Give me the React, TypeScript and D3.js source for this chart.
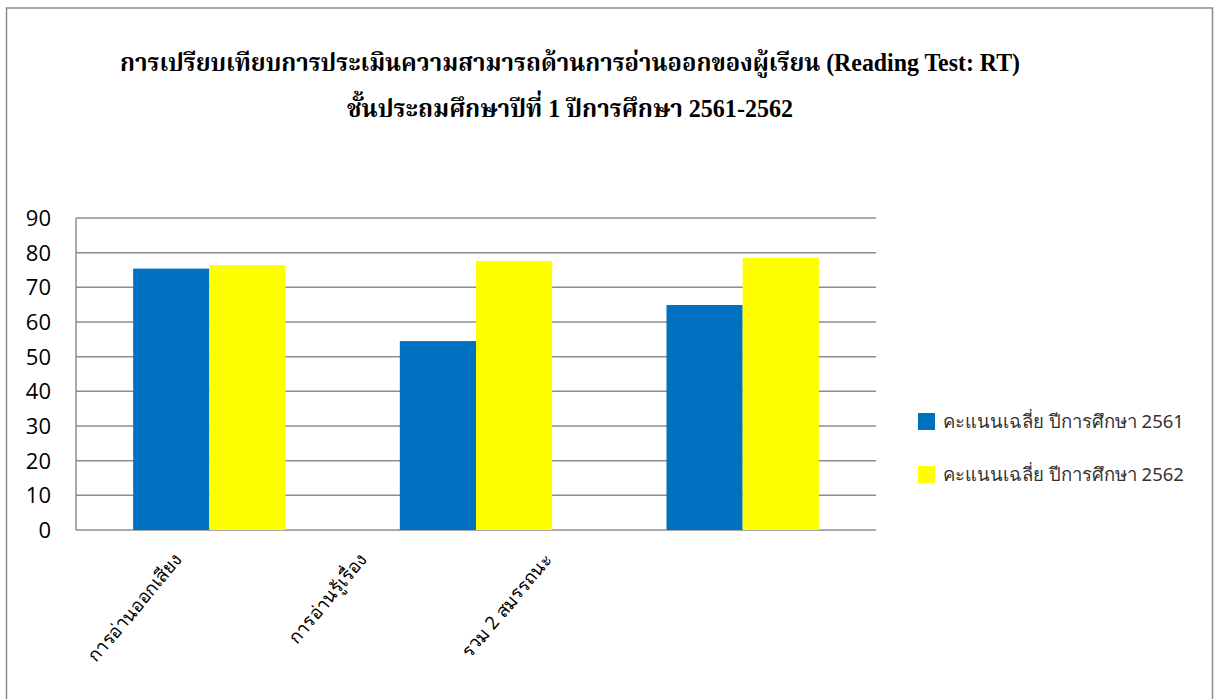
import React, { useEffect, useRef } from 'react';
import * as d3 from 'd3';

const categories = ['การอ่านออกเสียง', 'การอ่านรู้เรื่อง', 'รวม 2 สมรรถนะ'];
const seriesNames = ['คะแนนเฉลี่ย ปีการศึกษา 2561', 'คะแนนเฉลี่ย ปีการศึกษา 2562'];
const scores2561 = [75.4, 54.5, 64.9];
const scores2562 = [76.4, 77.6, 78.5];
const yTicks = [0, 10, 20, 30, 40, 50, 60, 70, 80, 90];
const titleLines = [
  'การเปรียบเทียบการประเมินความสามารถด้านการอ่านออกของผู้เรียน (Reading Test: RT)',
  'ชั้นประถมศึกษาปีที่ 1 ปีการศึกษา 2561-2562',
];
const titleWidths = [900, 446];
const colors = ['#0070C0', '#FFFF00'];

const App: React.FC = () => {
  const ref = useRef<SVGSVGElement | null>(null);

  useEffect(() => {
    if (!ref.current) return;
    const svg = d3.select(ref.current);
    svg.selectAll('*').remove();

    const W = 1214;
    const H = 699;
    const plot = { left: 76, right: 876, top: 218, bottom: 530 };

    svg.append('rect')
      .attr('x', 6.5).attr('y', 8)
      .attr('width', W - 8).attr('height', H)
      .attr('fill', '#fff')
      .attr('stroke', '#8c8c8c')
      .attr('stroke-width', 1.5);

    // title
    svg.selectAll('text.title')
      .data(titleLines)
      .enter()
      .append('text')
      .attr('class', 'title')
      .attr('x', 570)
      .attr('y', (_, i) => 71 + i * 46)
      .attr('text-anchor', 'middle')
      .attr('textLength', (_, i) => titleWidths[i])
      .attr('lengthAdjust', 'spacingAndGlyphs')
      .style('font-family', '"Liberation Serif", "Noto Serif Thai", serif')
      .style('font-weight', 'bold')
      .style('font-size', '25px')
      .text(d => d);

    const x = d3.scaleBand<string>()
      .domain(categories)
      .range([plot.left, plot.right])
      .padding(0);

    const inner = x.bandwidth() / 3.5;

    const y = d3.scaleLinear()
      .domain([0, 90])
      .range([plot.bottom, plot.top]);

    // gridlines
    svg.append('g')
      .selectAll('line')
      .data(yTicks)
      .enter()
      .append('line')
      .attr('x1', plot.left)
      .attr('x2', plot.right)
      .attr('y1', d => y(d))
      .attr('y2', d => y(d))
      .attr('stroke', '#8c8c8c')
      .attr('stroke-width', 1.5);

    svg.append('line')
      .attr('x1', plot.left).attr('x2', plot.left)
      .attr('y1', plot.top).attr('y2', plot.bottom)
      .attr('stroke', '#8c8c8c')
      .attr('stroke-width', 1.5);

    // y labels
    svg.append('g')
      .selectAll('text')
      .data(yTicks)
      .enter()
      .append('text')
      .attr('x', 51)
      .attr('y', d => y(d) + 8)
      .attr('text-anchor', 'end')
      .style('font-family', '"Open Sans", "Liberation Sans", sans-serif')
      .style('font-size', '22px')
      .attr('fill', '#000')
      .text(d => d);

    // bars
    const series = [scores2561, scores2562];
    series.forEach((vals, s) => {
      svg.append('g')
        .selectAll('rect')
        .data(vals)
        .enter()
        .append('rect')
        .attr('x', (_, i) => (x(categories[i]) || 0) + x.bandwidth() / 2 - inner + s * inner)
        .attr('y', d => y(d))
        .attr('width', inner)
        .attr('height', d => y(0) - y(d))
        .attr('fill', colors[s]);
    });

    // x labels (rotated)
    const lx = d3.scalePoint<string>()
      .domain(categories)
      .range([183, 553]);

    svg.append('g')
      .selectAll('text')
      .data(categories)
      .enter()
      .append('text')
      .attr('transform', d => `translate(${lx(d)},${560}) rotate(-50)`)
      .attr('text-anchor', 'end')
      .style('font-family', '"Noto Sans", "DejaVu Sans", sans-serif')
      .style('font-size', '18.5px')
      .text(d => d);

    // legend
    const lg = svg.append('g');
    seriesNames.forEach((name, i) => {
      const yy = 413 + i * 53;
      lg.append('rect')
        .attr('x', 918).attr('y', yy)
        .attr('width', 17).attr('height', 17)
        .attr('fill', colors[i]);
      lg.append('text')
        .attr('x', 943)
        .attr('y', yy + 15)
        .style('font-family', '"Noto Sans", "DejaVu Sans", sans-serif')
        .style('font-size', '18.5px')
        .attr('fill', '#333')
        .text(name);
    });
  }, []);

  return (
    <svg
      ref={ref}
      width={1214}
      height={699}
      style={{ position: 'absolute', left: 0, top: 0, background: '#fff' }}
    />
  );
};

export default App;
